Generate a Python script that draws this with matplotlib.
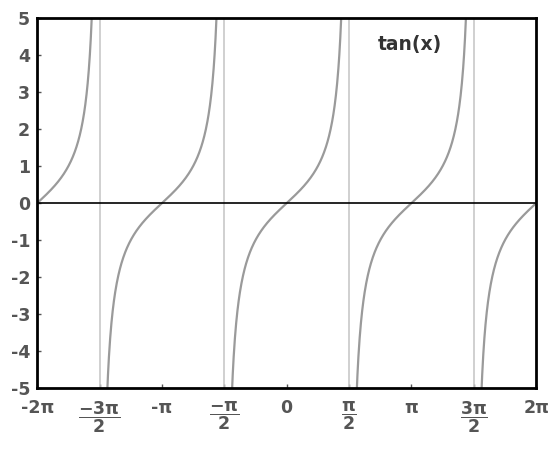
# tan(x) plot with asymptotes

import numpy as np
import matplotlib.pyplot as plt

plt.rcParams["axes.unicode_minus"] = False
plt.rcParams["mathtext.fontset"] = "dejavusans"
plt.rcParams["mathtext.default"] = "bf"

# Data
x_min, x_max = -2 * np.pi, 2 * np.pi
y_min, y_max = -5, 5
asymptotes = [-3 * np.pi / 2, -np.pi / 2, np.pi / 2, 3 * np.pi / 2]
x_ticks = [-2 * np.pi, -3 * np.pi / 2, -np.pi, -np.pi / 2, 0, np.pi / 2, np.pi, 3 * np.pi / 2, 2 * np.pi]
x_tick_labels = ["-2π", r"$\dfrac{-3\pi}{2}$", "-π", r"$\dfrac{-\pi}{2}$", "0",
                 r"$\dfrac{\pi}{2}$", "π", r"$\dfrac{3\pi}{2}$", "2π"]
y_ticks = [-5, -4, -3, -2, -1, 0, 1, 2, 3, 4, 5]

fig = plt.figure(figsize=(5.55, 4.55), dpi=100)
ax = fig.add_axes([0.067, 0.147, 0.899, 0.813])

# curve, split at each asymptote so no joining lines
edges = [x_min] + asymptotes + [x_max]
for a, b in zip(edges[:-1], edges[1:]):
    xs = np.linspace(a + 1e-4, b - 1e-4, 400)
    ax.plot(xs, np.tan(xs), color="#9a9a9a", lw=1.6)

for a in asymptotes:
    ax.axvline(a, color="#c8c8c8", lw=1.2)

ax.axhline(0, color="black", lw=1.2)

ax.set_xlim(x_min, x_max)
ax.set_ylim(y_min, y_max)
ax.set_xticks(x_ticks)
ax.set_xticklabels(x_tick_labels)
ax.set_yticks(y_ticks)

ax.tick_params(direction="in", length=3, width=1, colors="#555555", labelsize=12.5)
ax.tick_params(axis="x", pad=8)
ax.tick_params(axis="y", pad=5)
for lab in ax.get_xticklabels() + ax.get_yticklabels():
    lab.set_fontweight("bold")
    lab.set_color("#555555")

for s in ax.spines.values():
    s.set_linewidth(2)
    s.set_color("black")

ax.text(3.1, 4.3, "tan(x)", fontsize=13.5, fontweight="bold", color="#333333", ha="center", va="center")

fig.savefig("out.png", dpi=100)
